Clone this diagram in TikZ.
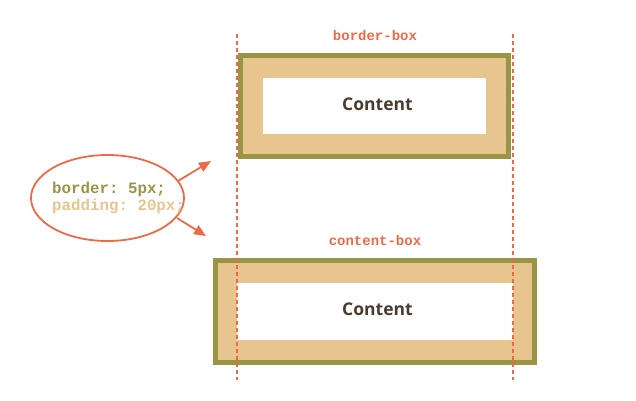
\documentclass[tikz,border=0pt]{standalone}
\usepackage{fontspec}
\setmainfont{Open Sans}
\setmonofont{Liberation Mono}
\usetikzlibrary{arrows.meta,shapes.geometric}
\definecolor{orng}{HTML}{EE6A46}
\definecolor{olive}{HTML}{9A9545}
\definecolor{tan}{HTML}{E8C48F}
\definecolor{brown}{HTML}{4A3B2F}
\tikzset{
  borderline/.style={draw=olive,line width=5pt,fill=tan},
  contentarea/.style={fill=white},
  guide/.style={draw=orng,line width=1.2pt,dash pattern=on 4pt off 3pt},
  boxlabel/.style={text=orng,font=\ttfamily\bfseries\fontsize{14}{16}\selectfont,inner sep=0pt},
  contentlabel/.style={text=brown,font=\bfseries\fontsize{17.5}{20}\selectfont,inner sep=0pt},
  pointer/.style={draw=orng,line width=1.8pt,-{Triangle[length=12pt,width=10pt]}},
}
\begin{document}
\begin{tikzpicture}[x=1pt,y=-1pt]
\useasboundingbox (0,0) rectangle (636,400);
% border-box
\draw[borderline] (240.5,55.5) rectangle (508.5,156.5);
\fill[contentarea] (263,78) rectangle (486,134);
\node[contentlabel] (c1) at (377.5,104) {Content};
% content-box
\draw[borderline] (215.5,260.5) rectangle (534.5,362);
\fill[contentarea] (237,283) rectangle (513,340);
\node[contentlabel] (c2) at (377.5,309) {Content};
% guides
\coordinate (g1t) at (237,34);
\coordinate (g1b) at (237,380);
\coordinate (g2t) at (513,34);
\coordinate (g2b) at (513,380);
\draw[guide] (g1t) -- (g1b);
\draw[guide] (g2t) -- (g2b);
% labels
\node[boxlabel] (l1) at (375,35) {border-box};
\node[boxlabel] (l2) at (375,240) {content-box};
% ellipse
\node[ellipse,draw=orng,line width=1.8pt,minimum width=153pt,minimum height=86pt,inner sep=0pt] (e) at (107.5,198) {};
\node[anchor=base west,inner sep=0pt,text=olive,font=\ttfamily\bfseries\fontsize{15.8}{18}\selectfont] (t1) at (52,193) {border: 5px;};
\node[anchor=base west,inner sep=0pt,text=tan,font=\ttfamily\bfseries\fontsize{15.8}{18}\selectfont] (t2) at (52,210) {padding: 20px;};
% arrows
\coordinate (a1s) at (178,181);
\coordinate (a1e) at (211,161);
\coordinate (a2s) at (177,218);
\coordinate (a2e) at (206,236);
\draw[pointer] (a1s) -- (a1e);
\draw[pointer] (a2s) -- (a2e);
\end{tikzpicture}
\end{document}
